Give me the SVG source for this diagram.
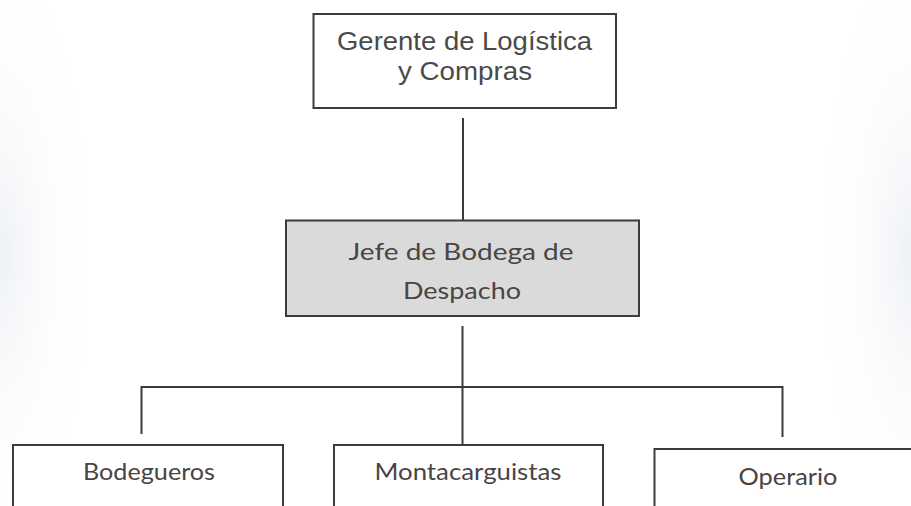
<svg xmlns="http://www.w3.org/2000/svg" width="911" height="506" viewBox="0 0 911 506">
  <defs>
    <style>
      .box { fill: #ffffff; stroke: #3c3c3c; stroke-width: 2; }
      .grey { fill: #dadada; stroke: #3c3c3c; stroke-width: 2; }
      .arial { font-family: "Liberation Sans", Arial, sans-serif; font-size: 25px; fill: #4a4a4a; text-anchor: middle; }
      .cal { font-family: Lato, "Open Sans", sans-serif; font-size: 24px; fill: #4a4444; text-anchor: middle; }
      .conn line { stroke: #3a3a3a; stroke-width: 2; fill: none; }
    </style>
    <radialGradient id="edgeL" cx="0" cy="0.5" r="0.6">
      <stop offset="0" stop-color="#eef1f5"/>
      <stop offset="1" stop-color="#ffffff" stop-opacity="0"/>
    </radialGradient>
    <radialGradient id="edgeR" cx="1" cy="0.5" r="0.6">
      <stop offset="0" stop-color="#eef1f5"/>
      <stop offset="1" stop-color="#ffffff" stop-opacity="0"/>
    </radialGradient>
  </defs>
  <rect x="0" y="0" width="911" height="506" fill="#ffffff"/>
  <rect x="0" y="0" width="150" height="506" fill="url(#edgeL)"/>
  <rect x="761" y="0" width="150" height="506" fill="url(#edgeR)"/>

  <g id="connectors" class="conn">
    <line x1="463" y1="118" x2="463" y2="220"/>
    <line x1="462.5" y1="326" x2="462.5" y2="445"/>
    <line x1="141.5" y1="387" x2="782.5" y2="387"/>
    <line x1="141.5" y1="386" x2="141.5" y2="434"/>
    <line x1="782.5" y1="386" x2="782.5" y2="437"/>
  </g>

  <g id="gerente">
    <rect class="box" x="313.5" y="14" width="302.5" height="94"/>
    <text class="arial" x="464.5" y="50" textLength="255" lengthAdjust="spacingAndGlyphs">Gerente de Logística</text>
    <text class="arial" x="465" y="80" textLength="134" lengthAdjust="spacingAndGlyphs">y Compras</text>
  </g>

  <g id="jefe">
    <rect class="grey" x="286" y="220.5" width="353" height="95.5"/>
    <text class="cal" x="461" y="260" textLength="225" lengthAdjust="spacingAndGlyphs">Jefe de Bodega de</text>
    <text class="cal" x="462" y="299" textLength="118" lengthAdjust="spacingAndGlyphs">Despacho</text>
  </g>

  <g id="bodegueros">
    <rect class="box" x="13" y="445" width="270" height="70"/>
    <text class="cal" x="149" y="480" textLength="132" lengthAdjust="spacingAndGlyphs">Bodegueros</text>
  </g>

  <g id="montacarguistas">
    <rect class="box" x="334" y="445" width="269" height="70"/>
    <text class="cal" x="468" y="480" textLength="187" lengthAdjust="spacingAndGlyphs">Montacarguistas</text>
  </g>

  <g id="operario">
    <rect class="box" x="654.5" y="449" width="270" height="70"/>
    <text class="cal" x="788" y="485" textLength="99" lengthAdjust="spacingAndGlyphs">Operario</text>
  </g>
</svg>
